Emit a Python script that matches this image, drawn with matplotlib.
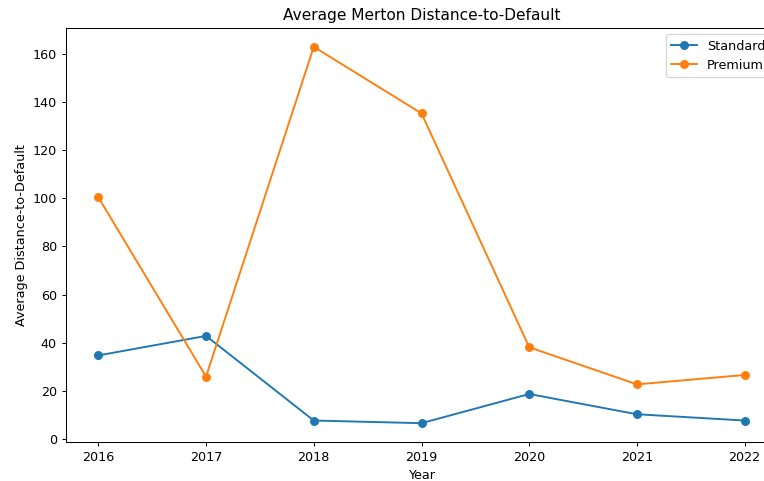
import matplotlib.pyplot as plt

# Data
years = [2016, 2017, 2018, 2019, 2020, 2021, 2022]
standard = [34.8, 42.9, 7.8, 6.7, 18.8, 10.4, 7.8]
premium = [100.4, 26.0, 162.8, 135.2, 38.2, 22.8, 26.7]

DPI = 92
fig = plt.figure(figsize=(764 / DPI, 481 / DPI), dpi=DPI)
# the source image was cropped on the right, so the axes run past the edge
ax = fig.add_axes([66 / 764, 1 - 442 / 481, 711 / 764, (442 - 28) / 481])

ax.plot(years, standard, marker='o', label='Standard')
ax.plot(years, premium, marker='o', label='Premium')

ax.set_title('Average Merton Distance-to-Default')
ax.set_xlabel('Year')
ax.set_ylabel('Average Distance-to-Default')
ax.legend(loc='upper right')

fig.savefig('out.png', dpi=DPI)
